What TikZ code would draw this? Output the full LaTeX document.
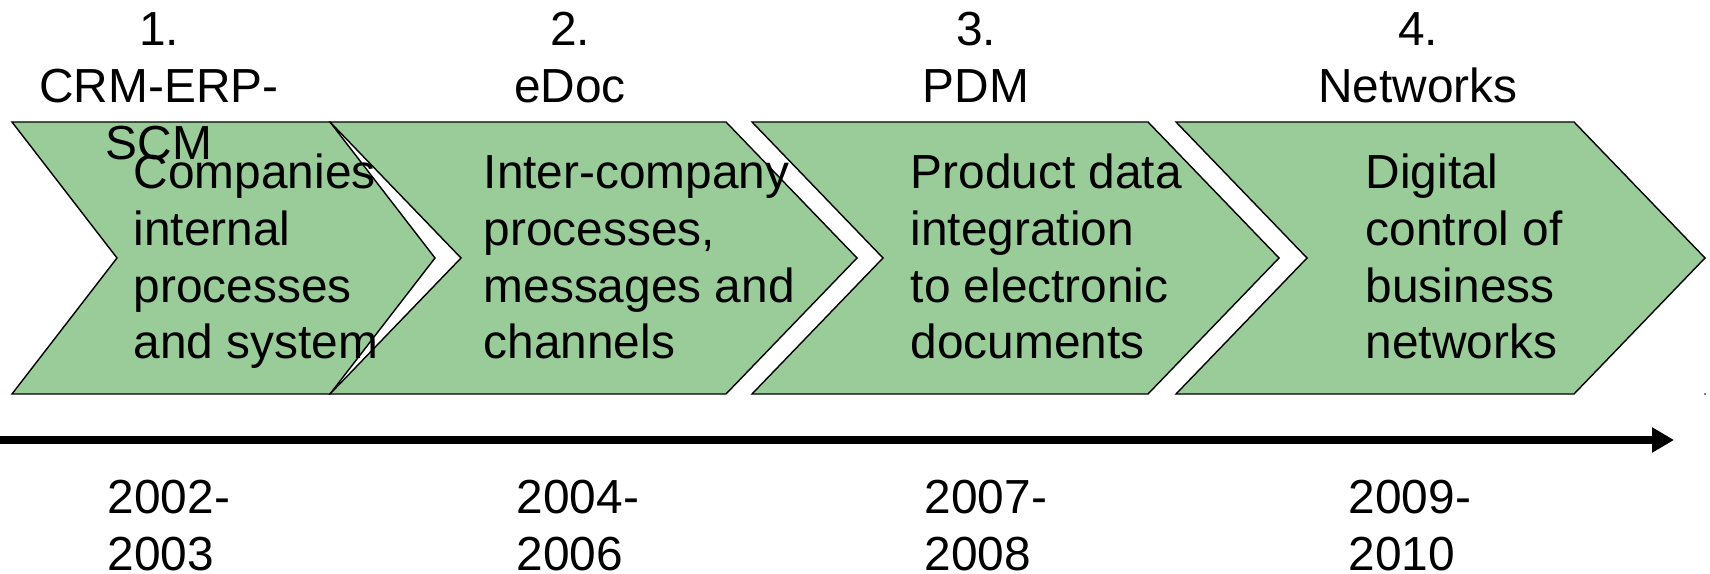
\documentclass[tikz,border=0pt]{standalone}
\usepackage{fontspec}
\setmainfont{Liberation Sans}
\usetikzlibrary{arrows.meta}
\definecolor{stagegreen}{RGB}{153,204,153}

\begin{document}
\begin{tikzpicture}[
		x=0.01cm,
		y=-0.01cm,
		stage/.style={
			draw=black,
			fill=stagegreen,
			line width=0.4pt,
			line join=miter
		},
		stagetext/.style={
			inner sep=0pt,
			font=\fontsize{13.6}{16.1}\selectfont
		},
		timeline/.style={
			line width=0.08cm
		},
		>={Triangle[length=0.22cm,width=0.24cm]}
		]
		\useasboundingbox (0,0) rectangle (1710,574);
		
		% chevrons: left edge / right edge / depth of the point
		\foreach \l/\r/\d [count=\i] in {12/330/105, 330/726/131, 752/1148/131, 1176/1574/131}
		\draw[stage] (\l,122) -- (\r,122) -- ({\r+\d},258) -- (\r,394)
			-- (\l,394) -- ({\l+\d},258) -- cycle;
		\fill (1705,394) circle (0.8);
		
		% phase titles
		\foreach \x/\t [count=\i] in {159/{1.\\CRM-ERP-\\SCM}, 570/{2.\\eDoc}, 976/{3.\\PDM}, 1418/{4.\\Networks}}
		\node[stagetext, anchor=base] (head\i) at (\x,46) {\parbox[t]{4cm}{\centering \t}};
		
		% contents
		\node[stagetext, anchor=base west] (body1) at (133,189)
			{\parbox[t]{4cm}{Companies\\internal\\processes\\and system}};
		\node[stagetext, anchor=base west] (body2) at (483,189)
			{\parbox[t]{4cm}{Inter-company\\processes,\\messages and\\channels}};
		\node[stagetext, anchor=base west] (body3) at (910,189)
			{\parbox[t]{4cm}{Product data\\integration\\to electronic\\documents}};
		\node[stagetext, anchor=base west] (body4) at (1365,189)
			{\parbox[t]{4cm}{Digital\\control of\\business\\networks}};
		
		% time axis
		\coordinate (t0) at (0,440);
		\coordinate (t1) at (1674,440);
		\draw[timeline,->] (t0) -- (t1);
		
		\foreach \x/\a/\b [count=\i] in {107/2002/2003, 516/2004/2006, 924/2007/2008, 1348/2009/2010}
		\node[stagetext, anchor=base west] (year\i) at (\x,514) {\parbox[t]{3cm}{\a-\\\b}};
		
\end{tikzpicture}
\end{document}
